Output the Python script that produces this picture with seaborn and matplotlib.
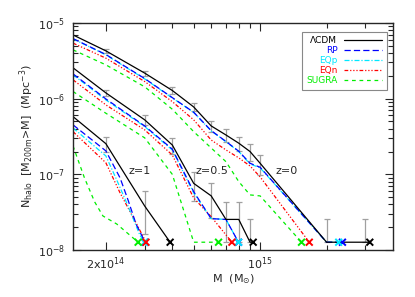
import numpy as np
import pandas as pd
import matplotlib
matplotlib.use('Agg')
import matplotlib.pyplot as plt
import seaborn as sns
from matplotlib.lines import Line2D
from matplotlib.ticker import FixedLocator, FixedFormatter, NullFormatter, LogLocator

# cumulative halo mass function N(>M)
# masses in 1e14 Msun, densities in Mpc^-3; last point of each curve is the x marker
ONE_HALO = 1.27e-8  # one halo in the box

# z = 0
LCDM_Z0_M = [1.42, 2, 3, 4, 5, 6, 7, 8, 9, 10, 20, 30, 31.4]
LCDM_Z0_N = [6.93e-6, 4.27e-6, 2.17e-6, 1.28e-6, 7.76e-7, 4.36e-7, 3.31e-7, 2.58e-7,
             2.00e-7, 1.40e-7, 1.27e-8, 1.27e-8, 1.27e-8]
RP_Z0_M = [1.42, 2, 3, 4, 5, 6, 7, 8, 9, 10, 20, 23.6]
RP_Z0_N = [6.20e-6, 3.82e-6, 1.84e-6, 1.03e-6, 6.60e-7, 3.78e-7, 2.72e-7, 2.02e-7,
           1.40e-7, 1.24e-7, 1.27e-8, 1.27e-8]
EQP_Z0_M = [1.42, 2, 3, 4, 5, 6, 7, 8, 9, 10, 20, 22.7]
EQP_Z0_N = [6.15e-6, 3.78e-6, 1.82e-6, 1.02e-6, 6.58e-7, 3.74e-7, 2.70e-7, 2.00e-7,
            1.37e-7, 1.22e-7, 1.27e-8, 1.27e-8]
EQN_Z0_M = [1.42, 2, 3, 4, 5, 6, 7, 8, 9, 10, 16.7]
EQN_Z0_N = [5.40e-6, 3.42e-6, 1.68e-6, 9.12e-7, 5.24e-7, 2.84e-7, 2.10e-7, 1.65e-7,
            1.29e-7, 9.25e-8, 1.27e-8]
SUGRA_Z0_M = [1.42, 2, 3, 4, 5, 6, 7, 8, 9, 10, 15.4]
SUGRA_Z0_N = [4.40e-6, 2.79e-6, 1.43e-6, 7.24e-7, 3.66e-7, 2.23e-7, 1.47e-7, 8.02e-8,
              5.35e-8, 5.19e-8, 1.27e-8]

# z = 0.5
LCDM_Z05_M = [1.42, 2, 3, 4, 5, 6, 7, 8, 9, 9.3]
LCDM_Z05_N = [2.55e-6, 1.19e-6, 5.24e-7, 2.44e-7, 7.6e-8, 5.2e-8, 2.54e-8, 2.54e-8,
              1.27e-8, 1.27e-8]
RP_Z05_M = [1.42, 2, 3, 4, 5, 6, 7, 7.98]
RP_Z05_N = [2.12e-6, 9.9e-7, 4.35e-7, 2.15e-7, 5.9e-8, 2.6e-8, 2.54e-8, 1.27e-8]
EQP_Z05_M = [1.42, 2, 3, 4, 5, 6, 7, 7.98]
EQP_Z05_N = [2.06e-6, 9.62e-7, 4.27e-7, 2.10e-7, 5.68e-8, 2.6e-8, 2.54e-8, 1.27e-8]
EQN_Z05_M = [1.42, 2, 3, 4, 5, 6, 7.45]
EQN_Z05_N = [1.77e-6, 8.26e-7, 3.86e-7, 1.80e-7, 4.88e-8, 2.76e-8, 1.27e-8]
SUGRA_Z05_M = [1.42, 2, 3, 4, 5, 6.48]
SUGRA_Z05_N = [1.24e-6, 6.41e-7, 3.03e-7, 1.0e-7, 1.27e-8, 1.27e-8]

# z = 1
LCDM_Z1_M = [1.42, 2, 3, 3.91]
LCDM_Z1_N = [5.78e-7, 2.54e-7, 3.81e-8, 1.27e-8]
RP_Z1_M = [1.42, 2.0, 2.32, 2.52, 2.74, 3.01]
RP_Z1_N = [4.50e-7, 2.04e-7, 8.96e-8, 4.59e-8, 2.21e-8, 1.27e-8]
EQP_Z1_M = [1.42, 2.0, 2.24, 2.52, 2.85, 2.99]
EQP_Z1_N = [4.10e-7, 1.75e-7, 8.43e-8, 3.83e-8, 1.58e-8, 1.27e-8]
EQN_Z1_M = [1.42, 2.0, 2.32, 2.77, 3.04]
EQN_Z1_N = [3.66e-7, 1.42e-7, 5.68e-8, 2.15e-8, 1.27e-8]
SUGRA_Z1_M = [1.42, 1.60, 1.78, 1.94, 2.24, 2.80]
SUGRA_Z1_N = [2.37e-7, 8.96e-8, 4.32e-8, 2.82e-8, 2.21e-8, 1.27e-8]

MODELS = ['ΛCDM', 'RP', 'EQp', 'EQn', 'SUGRA']
REDSHIFT_LABELS = ['z=1', 'z=0.5', 'z=0']
REDSHIFT_LABEL_M = [2.85e14, 6.02e14, 1.32e15]
REDSHIFT_LABEL_N = [1.12e-7, 1.11e-7, 1.11e-7]

SERIES = {
    ('ΛCDM', 0.0): (LCDM_Z0_M, LCDM_Z0_N),
    ('RP', 0.0): (RP_Z0_M, RP_Z0_N),
    ('EQp', 0.0): (EQP_Z0_M, EQP_Z0_N),
    ('EQn', 0.0): (EQN_Z0_M, EQN_Z0_N),
    ('SUGRA', 0.0): (SUGRA_Z0_M, SUGRA_Z0_N),
    ('ΛCDM', 0.5): (LCDM_Z05_M, LCDM_Z05_N),
    ('RP', 0.5): (RP_Z05_M, RP_Z05_N),
    ('EQp', 0.5): (EQP_Z05_M, EQP_Z05_N),
    ('EQn', 0.5): (EQN_Z05_M, EQN_Z05_N),
    ('SUGRA', 0.5): (SUGRA_Z05_M, SUGRA_Z05_N),
    ('ΛCDM', 1.0): (LCDM_Z1_M, LCDM_Z1_N),
    ('RP', 1.0): (RP_Z1_M, RP_Z1_N),
    ('EQp', 1.0): (EQP_Z1_M, EQP_Z1_N),
    ('EQn', 1.0): (EQN_Z1_M, EQN_Z1_N),
    ('SUGRA', 1.0): (SUGRA_Z1_M, SUGRA_Z1_N),
}

COLORS = {'ΛCDM': '#000000', 'RP': '#0000ff', 'EQp': '#00e8ff',
          'EQn': '#ff0000', 'SUGRA': '#00ee00'}
DASHES = {'ΛCDM': '', 'RP': (5, 2.5), 'EQp': (4, 1.5, 1, 1.5),
          'EQn': (3, 1.5, 1, 1.5, 1, 1.5, 1, 1.5), 'SUGRA': (3, 3)}

sns.set_style('ticks')
plt.rcParams['font.family'] = ['DejaVu Sans']
plt.rcParams['mathtext.default'] = 'regular'

# long table for seaborn
rows = []
for (model, z), (masses, dens) in SERIES.items():
    for m, n in zip(masses, dens):
        rows.append({'model': model, 'z': z, 'M': m * 1e14, 'N': n})
df = pd.DataFrame(rows)
ends = df.groupby(['model', 'z'], sort=False).tail(1)

fig = plt.figure(figsize=(4.15, 2.97), dpi=100)
ax = fig.add_axes([0.176, 0.158, 0.771, 0.765])
ax.set_xscale('log')
ax.set_yscale('log')

draw_order = ['SUGRA', 'EQn', 'EQp', 'RP', 'ΛCDM']

# poisson error bars on the LCDM bins
for z in [0.0, 0.5, 1.0]:
    m = np.array(SERIES[('ΛCDM', z)][0][1:-1]) * 1e14
    n = np.array(SERIES[('ΛCDM', z)][1][1:-1])
    err = np.sqrt(n * ONE_HALO)
    lo = np.minimum(err, n - ONE_HALO)
    ax.errorbar(m, n, yerr=[lo, err], fmt='none', ecolor='#a0a0a0',
                elinewidth=0.9, capsize=2.5, capthick=0.9, zorder=1)

sns.lineplot(data=df, x='M', y='N', hue='model', style='model', units='z',
             estimator=None, sort=False, hue_order=draw_order, style_order=draw_order,
             palette=COLORS, dashes=DASHES, linewidth=0.9, legend=False, ax=ax, zorder=2)

sns.scatterplot(data=ends, x='M', y='N', hue='model', hue_order=draw_order,
                palette=COLORS, marker='x', s=24, linewidth=1.4, legend=False,
                ax=ax, zorder=3)

for label, m, n in zip(REDSHIFT_LABELS, REDSHIFT_LABEL_M, REDSHIFT_LABEL_N):
    ax.text(m, n, label, fontsize=8, ha='center', va='center')

ax.set_xlim(1.42e14, 4.0e15)
ax.set_ylim(1e-8, 1e-5)

ax.xaxis.set_major_locator(FixedLocator([2e14, 1e15]))
ax.xaxis.set_major_formatter(FixedFormatter([r'2x10$^{14}$', r'10$^{15}$']))
ax.xaxis.set_minor_locator(FixedLocator([3e14, 4e14, 5e14, 6e14, 7e14, 8e14, 9e14, 2e15, 3e15]))
ax.xaxis.set_minor_formatter(NullFormatter())
ax.yaxis.set_major_locator(LogLocator(base=10, numticks=10))
ax.yaxis.set_minor_locator(LogLocator(base=10, subs=np.arange(2, 10), numticks=20))
ax.yaxis.set_minor_formatter(NullFormatter())

ax.tick_params(which='both', direction='in', top=True, right=True, labelsize=8, width=0.8)
ax.tick_params(which='major', length=6)
ax.tick_params(axis='x', which='major', pad=4)
ax.tick_params(axis='y', which='major', pad=6)
ax.tick_params(which='minor', length=3.5)
for s in ax.spines.values():
    s.set_linewidth(1.0)

ax.set_xlabel(r'M  (M$_{\odot}$)', fontsize=8, labelpad=0)
ax.set_ylabel(r'N$_{halo}$  [M$_{200m}$>M]  (Mpc$^{-3}$)', fontsize=8, labelpad=1)

handles = []
for model in MODELS:
    if DASHES[model] == '':
        h = Line2D([], [], color=COLORS[model], lw=0.9, ls='-')
    else:
        h = Line2D([], [], color=COLORS[model], lw=0.9, dashes=DASHES[model])
    handles.append(h)
leg = ax.legend(handles, MODELS, loc='upper right', bbox_to_anchor=(0.981, 0.96),
                borderaxespad=0, markerfirst=False, fontsize=6.5, handlelength=4.2,
                fancybox=False, edgecolor='#888888', labelspacing=0.1, borderpad=0.5,
                handletextpad=0.8, framealpha=1)
leg.get_frame().set_linewidth(0.8)
for t, model in zip(leg.get_texts(), MODELS):
    t.set_color(COLORS[model])

fig.savefig('out.png', dpi=100)
